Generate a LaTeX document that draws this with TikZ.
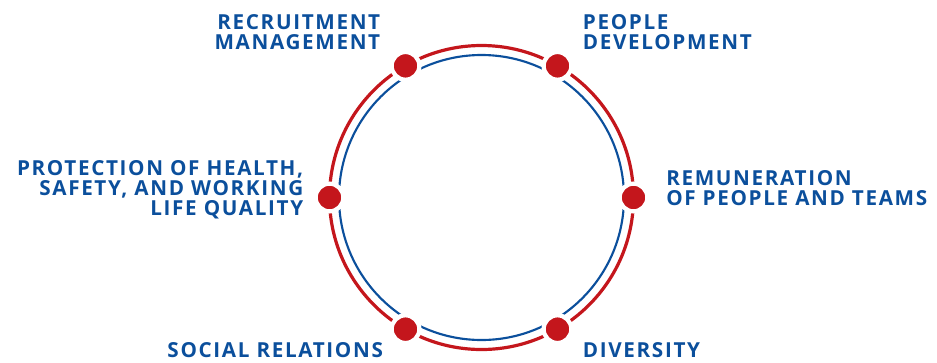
\documentclass[tikz,border=0pt]{standalone}
\usepackage{fontspec}
\setmainfont{Open Sans}
\usetikzlibrary{positioning}
\definecolor{ringred}{HTML}{C4161C}
\definecolor{ringblue}{HTML}{0B4F9C}

\begin{document}
\begin{tikzpicture}[x=0.75pt,y=0.75pt,
  lbl/.style={font=\fontsize{15.5}{15}\selectfont\bfseries\addfontfeature{LetterSpace=8},text=ringblue,inner sep=0pt},
  dot/.style={circle,fill=ringred,draw=white,line width=3.2pt,minimum size=20.8pt,inner sep=0pt}]
\useasboundingbox (-481.5,-164.5) rectangle (455.5,197.5);
% two rings
\draw[ringred,line width=2.4pt] (0,0) circle[radius=152];
\draw[ringblue,line width=1.6pt] (0,0) circle[radius=142.5];
\foreach \a/\n in {0/rem,60/dev,120/rec,180/hse,240/soc,300/div}
  \node[dot] (\n) at (\a:152) {};
% labels
\node[lbl,align=right,anchor=north east] (recl) at (-101,183.2) {RECRUITMENT\\MANAGEMENT};
\node[lbl,align=left,anchor=north west]  (devl) at (101.2,183.5) {PEOPLE\\DEVELOPMENT};
\node[lbl,align=right,anchor=north east] (hsel) at (-178,36.8) {PROTECTION OF HEALTH,\\SAFETY, AND WORKING\\LIFE QUALITY};
\node[lbl,align=left,anchor=north west]  (reml) at (184.5,27.5) {REMUNERATION\\OF PEOPLE AND TEAMS};
\node[lbl,anchor=north east] (socl) at (-98.3,-145.2) {SOCIAL RELATIONS};
\node[lbl,anchor=north west] (divl) at (101.2,-145.2) {DIVERSITY};
\end{tikzpicture}
\end{document}
